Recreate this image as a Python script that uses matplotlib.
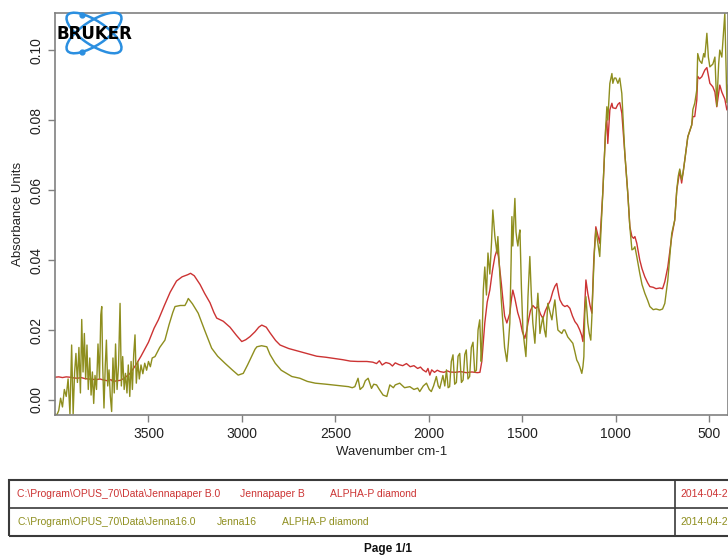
import numpy as np
import matplotlib
matplotlib.use("Agg")
import matplotlib.pyplot as plt
from matplotlib.patches import Ellipse, Rectangle
from matplotlib.lines import Line2D

# spectra (wavenumber cm-1, absorbance)
red_wn = [4000, 3980, 3960, 3940, 3920, 3900, 3880, 3860, 3840, 3820, 3800, 3780, 3760, 3740,
          3720, 3700, 3690, 3670, 3650, 3630, 3600, 3570, 3540, 3500, 3470, 3447, 3415, 3384,
          3350, 3320, 3290, 3275, 3255, 3224, 3200, 3171, 3150, 3135, 3100, 3064, 3030, 3001,
          2980, 2957, 2930, 2910, 2894, 2870, 2850, 2820, 2796, 2750, 2689, 2650, 2600, 2550,
          2510, 2460, 2420, 2380, 2332, 2300, 2280, 2265, 2250, 2230, 2210, 2195, 2180, 2160,
          2140, 2120, 2100, 2080, 2060, 2045, 2032, 2015, 2005, 1995, 1985, 1970, 1955, 1940,
          1920, 1900, 1888, 1860, 1830, 1800, 1770, 1740, 1727, 1717, 1701, 1688, 1674, 1660,
          1647, 1636, 1628, 1620, 1612, 1604, 1595, 1583, 1567, 1558, 1551, 1540, 1525, 1513,
          1500, 1487, 1478, 1470, 1457, 1444, 1430, 1417, 1403, 1390, 1377, 1364, 1350, 1337,
          1326, 1316, 1305, 1299, 1285, 1273, 1260, 1246, 1232, 1219, 1206, 1193, 1183, 1176,
          1168, 1160, 1150, 1138, 1128, 1118, 1107, 1096, 1086, 1070, 1054, 1048, 1043, 1032,
          1021, 1016, 1000, 989, 979, 968, 952, 936, 925, 914, 905, 898, 888, 872, 860, 845,
          830, 818, 800, 785, 765, 750, 738, 722, 710, 701, 685, 674, 658, 648, 631, 615, 594,
          588, 578, 567, 562, 552, 540, 524, 513, 497, 481, 470, 460, 444, 433, 417, 406, 400]
red_abs = [0.0065, 0.0066, 0.0064, 0.0066, 0.0065, 0.0063, 0.0062, 0.0064, 0.0061, 0.0060,
           0.0059, 0.0058, 0.0060, 0.0057, 0.0055, 0.0058, 0.0052, 0.0055, 0.0056, 0.0062,
           0.0075, 0.0098, 0.0125, 0.0165, 0.0205, 0.0229, 0.0270, 0.0308, 0.0340, 0.0352,
           0.0358, 0.0362, 0.0355, 0.0330, 0.0305, 0.0278, 0.0250, 0.0234, 0.0225, 0.0208,
           0.0185, 0.0167, 0.0172, 0.0181, 0.0195, 0.0208, 0.0214, 0.0208, 0.0192, 0.0170,
           0.0157, 0.0147, 0.0138, 0.0132, 0.0125, 0.0122, 0.0119, 0.0115, 0.0111, 0.0110,
           0.0110, 0.0108, 0.0104, 0.0112, 0.0100, 0.0107, 0.0104, 0.0097, 0.0106, 0.0101,
           0.0098, 0.0104, 0.0095, 0.0098, 0.0090, 0.0094, 0.0086, 0.0080, 0.0090, 0.0071,
           0.0086, 0.0079, 0.0085, 0.0081, 0.0079, 0.0083, 0.0080, 0.0079, 0.0081, 0.0078,
           0.0080, 0.0078, 0.0079, 0.0110, 0.0220, 0.0280, 0.0314, 0.0370, 0.0410, 0.0429,
           0.0410, 0.0370, 0.0330, 0.0286, 0.0240, 0.0220, 0.0248, 0.0290, 0.0314, 0.0290,
           0.0250, 0.0229, 0.0195, 0.0176, 0.0195, 0.0220, 0.0255, 0.0270, 0.0262, 0.0267,
           0.0245, 0.0233, 0.0255, 0.0270, 0.0285, 0.0310, 0.0325, 0.0333, 0.0300, 0.0286,
           0.0272, 0.0267, 0.0270, 0.0262, 0.0240, 0.0224, 0.0215, 0.0200, 0.0185, 0.0167,
           0.0250, 0.0343, 0.0305, 0.0270, 0.0248, 0.0400, 0.0495, 0.0470, 0.0448, 0.0590,
           0.0780, 0.0800, 0.0733, 0.0829, 0.0848, 0.0835, 0.0833, 0.0845, 0.0850, 0.0820,
           0.0705, 0.0590, 0.0495, 0.0467, 0.0462, 0.0467, 0.0448, 0.0400, 0.0375, 0.0352,
           0.0335, 0.0324, 0.0322, 0.0318, 0.0320, 0.0318, 0.0338, 0.0380, 0.0430, 0.0467,
           0.0514, 0.0600, 0.0655, 0.0620, 0.0686, 0.0752, 0.0786, 0.0810, 0.0810, 0.0857,
           0.0925, 0.0918, 0.0924, 0.0943, 0.0950, 0.0905, 0.0895, 0.0880, 0.0838, 0.0900,
           0.0880, 0.0860, 0.0829, 0.0840]

green_wn = [4000, 3990, 3980, 3970, 3960, 3950, 3940, 3930, 3920, 3911, 3903, 3895, 3888, 3880,
            3872, 3864, 3857, 3850, 3843, 3836, 3829, 3822, 3814, 3807, 3800, 3793, 3786, 3778,
            3770, 3762, 3755, 3750, 3745, 3738, 3731, 3725, 3718, 3711, 3704, 3697, 3690, 3683,
            3676, 3668, 3660, 3652, 3645, 3638, 3630, 3623, 3615, 3608, 3600, 3593, 3586, 3579,
            3572, 3565, 3557, 3549, 3540, 3530, 3520, 3510, 3500, 3490, 3480, 3465, 3440, 3412,
            3390, 3370, 3358, 3330, 3305, 3295, 3287, 3265, 3234, 3200, 3162, 3130, 3091, 3050,
            3020, 2993, 2970, 2949, 2930, 2920, 2895, 2867, 2850, 2822, 2790, 2733, 2690, 2650,
            2608, 2550, 2500, 2430, 2410, 2396, 2379, 2368, 2352, 2340, 2325, 2307, 2295, 2280,
            2265, 2245, 2225, 2209, 2190, 2180, 2156, 2130, 2102, 2080, 2060, 2049, 2030, 2013,
            1998, 1987, 1975, 1960, 1950, 1942, 1925, 1915, 1906, 1897, 1889, 1880, 1871, 1862,
            1853, 1844, 1835, 1826, 1817, 1808, 1800, 1791, 1782, 1773, 1764, 1755, 1746, 1737,
            1728, 1720, 1717, 1709, 1701, 1692, 1684, 1674, 1665, 1658, 1647, 1636, 1631, 1620,
            1612, 1604, 1595, 1583, 1575, 1567, 1560, 1556, 1551, 1545, 1540, 1534, 1529, 1524,
            1518, 1513, 1505, 1497, 1489, 1481, 1475, 1470, 1460, 1452, 1444, 1433, 1425, 1417,
            1410, 1406, 1398, 1390, 1382, 1374, 1368, 1364, 1352, 1342, 1334, 1326, 1318, 1310,
            1300, 1289, 1280, 1273, 1265, 1257, 1245, 1230, 1220, 1209, 1200, 1193, 1182, 1176,
            1171, 1166, 1160, 1150, 1142, 1134, 1128, 1123, 1115, 1107, 1096, 1086, 1070, 1054,
            1048, 1043, 1032, 1021, 1016, 1008, 1000, 989, 979, 968, 960, 952, 936, 925, 914,
            905, 898, 888, 872, 860, 845, 830, 818, 800, 785, 765, 750, 738, 722, 710, 701, 685,
            674, 666, 658, 648, 640, 631, 615, 594, 588, 578, 567, 562, 552, 540, 530, 524, 513,
            505, 497, 481, 470, 460, 450, 444, 433, 428, 417, 410, 406, 400]
green_abs = [-0.0040, -0.0043, -0.0030, 0.0005, -0.0020, 0.0030, 0.0010, 0.0060, -0.0040, 0.0157,
             -0.0040, 0.0080, 0.0133, 0.0050, 0.0150, 0.0020, 0.0230, 0.0080, 0.0190, 0.0060,
             0.0157, 0.0030, 0.0120, 0.0014, 0.0080, -0.0010, 0.0070, 0.0030, 0.0160, 0.0060,
             0.0243, 0.0267, 0.0100, -0.0023, 0.0100, 0.0171, 0.0040, 0.0086, 0.0010, -0.0033,
             0.0120, 0.0020, 0.0160, 0.0030, 0.0100, 0.0276, 0.0040, 0.0124, 0.0030, 0.0076,
             0.0020, 0.0100, 0.0010, 0.0110, 0.0030, 0.0130, 0.0186, 0.0048, 0.0110, 0.0060,
             0.0100, 0.0075, 0.0105, 0.0085, 0.0110, 0.0095, 0.0120, 0.0124, 0.0150, 0.0171,
             0.0215, 0.0250, 0.0267, 0.0270, 0.0270, 0.0280, 0.0290, 0.0275, 0.0248, 0.0200,
             0.0148, 0.0125, 0.0105, 0.0085, 0.0071, 0.0076, 0.0100, 0.0124, 0.0145, 0.0152,
             0.0155, 0.0152, 0.0130, 0.0105, 0.0085, 0.0067, 0.0062, 0.0053, 0.0048, 0.0045,
             0.0042, 0.0038, 0.0035, 0.0038, 0.0062, 0.0030, 0.0038, 0.0055, 0.0062, 0.0033,
             0.0045, 0.0043, 0.0030, 0.0014, 0.0010, 0.0043, 0.0035, 0.0043, 0.0048, 0.0035,
             0.0038, 0.0030, 0.0034, 0.0024, 0.0040, 0.0048, 0.0030, 0.0024, 0.0040, 0.0067,
             0.0040, 0.0033, 0.0070, 0.0040, 0.0086, 0.0035, 0.0038, 0.0110, 0.0129, 0.0045,
             0.0050, 0.0125, 0.0133, 0.0050, 0.0057, 0.0130, 0.0143, 0.0060, 0.0067, 0.0150,
             0.0165, 0.0080, 0.0085, 0.0200, 0.0229, 0.0110, 0.0140, 0.0314, 0.0380, 0.0300,
             0.0420, 0.0360, 0.0450, 0.0543, 0.0467, 0.0420, 0.0467, 0.0352, 0.0280, 0.0220,
             0.0150, 0.0110, 0.0160, 0.0220, 0.0400, 0.0524, 0.0440, 0.0520, 0.0576, 0.0480,
             0.0457, 0.0440, 0.0470, 0.0486, 0.0320, 0.0200, 0.0160, 0.0124, 0.0200, 0.0295,
             0.0410, 0.0300, 0.0220, 0.0162, 0.0240, 0.0305, 0.0240, 0.0190, 0.0215, 0.0238,
             0.0200, 0.0180, 0.0240, 0.0276, 0.0250, 0.0229, 0.0260, 0.0286, 0.0240, 0.0200,
             0.0195, 0.0190, 0.0200, 0.0200, 0.0190, 0.0180, 0.0172, 0.0162, 0.0140, 0.0114,
             0.0105, 0.0095, 0.0076, 0.0095, 0.0124, 0.0250, 0.0295, 0.0220, 0.0190, 0.0171,
             0.0240, 0.0314, 0.0420, 0.0486, 0.0448, 0.0410, 0.0590, 0.0780, 0.0838, 0.0800,
             0.0905, 0.0933, 0.0905, 0.0920, 0.0920, 0.0905, 0.0920, 0.0876, 0.0790, 0.0705,
             0.0590, 0.0495, 0.0429, 0.0432, 0.0438, 0.0410, 0.0362, 0.0330, 0.0305, 0.0285,
             0.0267, 0.0258, 0.0260, 0.0257, 0.0260, 0.0276, 0.0343, 0.0420, 0.0476, 0.0514,
             0.0600, 0.0640, 0.0660, 0.0630, 0.0650, 0.0686, 0.0752, 0.0786, 0.0830, 0.0848,
             0.0886, 0.0990, 0.0970, 0.0962, 0.0990, 0.0980, 0.1048, 0.0980, 0.0952, 0.0960,
             0.0980, 0.0840, 0.0960, 0.1000, 0.0980, 0.1020, 0.1105, 0.0950, 0.0850, 0.0900]

x_ticks = [3500, 3000, 2500, 2000, 1500, 1000, 500]
y_ticks = [0.00, 0.02, 0.04, 0.06, 0.08, 0.10]

rows = [
    ("C:\\Program\\OPUS_70\\Data\\Jennapaper B.0", "Jennapaper B", "ALPHA-P diamond", "2014-04-23"),
    ("C:\\Program\\OPUS_70\\Data\\Jenna16.0", "Jenna16", "ALPHA-P diamond", "2014-04-23"),
]

RED = "#cc3333"
GREEN = "#8e8e1e"
W, H = 728, 556

plt.rcParams['font.family'] = ['Liberation Sans', 'DejaVu Sans']

fig = plt.figure(figsize=(W / 100, H / 100), dpi=100)


def fx(px):
    return px / W


def fy(py):
    return 1 - py / H


# main plot, left 55 px, top 13 px, bottom 415 px
ax = fig.add_axes([fx(55), fy(415), 1 - fx(55), fy(13) - fy(415)])
ax.plot(red_wn, red_abs, color=RED, lw=1.0)
ax.plot(green_wn, green_abs, color=GREEN, lw=1.0)
ax.set_xlim(4000, 400)
ax.set_ylim(-0.0043, 0.1106)
ax.set_xticks(x_ticks)
ax.set_yticks(y_ticks)
ax.set_yticklabels(["%.2f" % v for v in y_ticks], rotation=90, va="center")
for s in ax.spines.values():
    s.set_color("#808080")
    s.set_linewidth(1.2)
ax.tick_params(colors="#808080", labelcolor="#222222", labelsize=10, length=5, width=1.0)
ax.set_xlabel("Wavenumber cm-1", fontsize=9.5, color="#222222", labelpad=4)
ax.set_ylabel("Absorbance Units", fontsize=9.5, color="#222222", labelpad=4)

# BRUKER logo, in pixel units
lg = fig.add_axes([fx(55), fy(56), fx(80), 46 / H])
lg.set_xlim(0, 80)
lg.set_ylim(0, 46)
lg.axis("off")
for ang in (33.5, -33.5):
    lg.add_patch(Ellipse((39, 23), 64, 24, angle=ang, fill=False, ec="#2b8fe0", lw=1.8))
lg.plot([27, 27], [41, 4], "o", color="#2b8fe0", ms=3.5)
lg.text(39, 22, "BRUKER", ha="center", va="center", fontsize=12, fontweight="bold",
        color="black", family="DejaVu Sans")

# table under the plot
x0, x_sep = 9, 675
top, mid, bot = 480, 508, 536
fig.add_artist(Rectangle((fx(x0), fy(bot)), 1.2 - fx(x0), fy(top) - fy(bot),
                         transform=fig.transFigure, fill=False, ec="#3a3a3a", lw=1.5))
fig.add_artist(Line2D([fx(x0), 1.2], [fy(mid), fy(mid)], color="#3a3a3a", lw=1.2))
fig.add_artist(Line2D([fx(x_sep), fx(x_sep)], [fy(top), fy(bot)], color="#3a3a3a", lw=1.2))

col_x = [[17, 240, 330, 680], [17, 217, 282, 680]]
row_y = [494, 522]
for (cells, cx, ry, c) in zip(rows, col_x, row_y, [RED, GREEN]):
    for txt, xx in zip(cells, cx):
        fig.text(fx(xx), fy(ry), txt, color=c, fontsize=7.5, va="center", ha="left")

fig.text(fx(388), fy(549), "Page 1/1", fontsize=8.5, fontweight="bold", ha="center",
         va="center", color="#111111")

fig.savefig("out.png", dpi=100)
